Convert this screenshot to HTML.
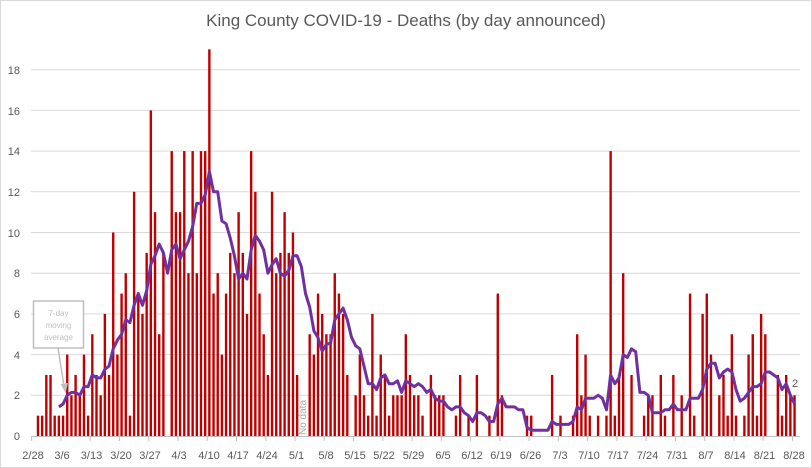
<!DOCTYPE html>
<html><head><meta charset="utf-8">
<style>
html,body{margin:0;padding:0;background:#fff;}
svg{display:block;font-family:"Liberation Sans",sans-serif;}
.yl{font-size:11px;fill:#595959;text-anchor:end;}
.xl{font-size:11px;fill:#595959;text-anchor:middle;}
</style></head>
<body>
<svg id="c" width="812" height="468" viewBox="0 0 812 468" xmlns="http://www.w3.org/2000/svg">
<rect x="0.5" y="0.5" width="811" height="467" fill="#fff" stroke="#d9d9d9"/>
<text x="406" y="26" font-size="17" fill="#595959" text-anchor="middle">King County COVID-19 - Deaths (by day announced)</text>
<g stroke="#d9d9d9" stroke-width="1">
<line x1="31" x2="800" y1="69.7" y2="69.7"/>
<line x1="31" x2="800" y1="110.4" y2="110.4"/>
<line x1="31" x2="800" y1="151.1" y2="151.1"/>
<line x1="31" x2="800" y1="191.8" y2="191.8"/>
<line x1="31" x2="800" y1="232.5" y2="232.5"/>
<line x1="31" x2="800" y1="273.2" y2="273.2"/>
<line x1="31" x2="800" y1="313.9" y2="313.9"/>
<line x1="31" x2="800" y1="354.6" y2="354.6"/>
<line x1="31" x2="800" y1="395.3" y2="395.3"/>
</g>
<g class="yl">
<text class="yl" x="20" y="74">18</text>
<text class="yl" x="20" y="115">16</text>
<text class="yl" x="20" y="155">14</text>
<text class="yl" x="20" y="196">12</text>
<text class="yl" x="20" y="237">10</text>
<text class="yl" x="20" y="277">8</text>
<text class="yl" x="20" y="318">6</text>
<text class="yl" x="20" y="359">4</text>
<text class="yl" x="20" y="399">2</text>
<text class="yl" x="20" y="440">0</text>
</g>
<g id="bars" fill="#c00000"></g>
<line x1="31" x2="800" y1="436.5" y2="436.5" stroke="#bfbfbf"/>
<g id="ticks" stroke="#bfbfbf"></g>
<g>
<text class="xl" x="33" y="459">2/28</text>
<text class="xl" x="62" y="459">3/6</text>
<text class="xl" x="91.5" y="459">3/13</text>
<text class="xl" x="121" y="459">3/20</text>
<text class="xl" x="150" y="459">3/27</text>
<text class="xl" x="179" y="459">4/3</text>
<text class="xl" x="209" y="459">4/10</text>
<text class="xl" x="238" y="459">4/17</text>
<text class="xl" x="267" y="459">4/24</text>
<text class="xl" x="296.5" y="459">5/1</text>
<text class="xl" x="326" y="459">5/8</text>
<text class="xl" x="355" y="459">5/15</text>
<text class="xl" x="384" y="459">5/22</text>
<text class="xl" x="413.5" y="459">5/29</text>
<text class="xl" x="443" y="459">6/5</text>
<text class="xl" x="472" y="459">6/12</text>
<text class="xl" x="501" y="459">6/19</text>
<text class="xl" x="530.5" y="459">6/26</text>
<text class="xl" x="560" y="459">7/3</text>
<text class="xl" x="589" y="459">7/10</text>
<text class="xl" x="618" y="459">7/17</text>
<text class="xl" x="647.5" y="459">7/24</text>
<text class="xl" x="677" y="459">7/31</text>
<text class="xl" x="706" y="459">8/7</text>
<text class="xl" x="735" y="459">8/14</text>
<text class="xl" x="764.5" y="459">8/21</text>
<text class="xl" x="794" y="459">8/28</text>
</g>
<text transform="translate(306,435) rotate(-90)" font-size="10" fill="#a6a6a6">No data</text>
<polyline id="ma" fill="none" stroke="#7030a0" stroke-width="3" stroke-linejoin="round"/>
<text x="792" y="387" font-size="11" fill="#595959">2</text>
<rect x="33.5" y="301" width="50" height="47" fill="#fff" stroke="#bfbfbf" stroke-width="1.5"/>
<text x="58.5" y="316" font-size="8" fill="#bfbfbf" text-anchor="middle">7-day</text>
<text x="58.5" y="328" font-size="8" fill="#bfbfbf" text-anchor="middle">moving</text>
<text x="58.5" y="340" font-size="8" fill="#bfbfbf" text-anchor="middle">average</text>
<line x1="58" y1="348" x2="64" y2="386" stroke="#bfbfbf" stroke-width="1.5"/>
<polygon points="60.5,384 68,383 65.5,393" fill="#bfbfbf"/>
</svg>
<script>
var d=[0,1,1,3,3,1,1,1,4,2,3,2,4,1,5,3,2,6,3,10,4,7,8,1,12,7,6,9,16,11,5,9,0,
14,11,11,14,8,14,8,14,14,19,7,8,4,7,9,8,11,9,6,14,12,7,5,3,12,8,9,11,9,10,3,
null,0,5,4,7,6,5,5,8,7,6,3,0,2,4,2,1,6,1,4,3,1,2,2,2,5,3,2,2,1,0,3,2,2,2,0,0,
1,3,0,1,0,3,0,0,1,0,7,2,0,0,0,0,0,1,1,0,0,0,0,3,0,1,0,0,1,5,2,4,1,0,1,0,1,14,1,3,8,0,3,0,0,1,2,2,0,3,1,0,3,0,2,0,7,1,0,6,7,4,0,2,3,1,5,1,0,1,4,5,1,6,5,0,0,3,1,3,2,2];
var ns="http://www.w3.org/2000/svg";
function X(i){return 33.8+4.18*i;}
function Y(v){return 436-20.35*v;}
var g=document.getElementById('bars');
for(var i=0;i<d.length;i++){if(d[i]){var r=document.createElementNS(ns,'rect');r.setAttribute('x',(X(i)-1.2).toFixed(2));r.setAttribute('width','2.4');r.setAttribute('y',Y(d[i]).toFixed(2));r.setAttribute('height',(20.35*d[i]).toFixed(2));g.appendChild(r);}}
var t=document.getElementById('ticks');
for(var k=0;k<=26;k++){var x=31.7+4.18*7*k;var l=document.createElementNS(ns,'line');l.setAttribute('x1',x);l.setAttribute('x2',x);l.setAttribute('y1',436);l.setAttribute('y2',441);t.appendChild(l);}
var pts=[];
for(var i=6;i<d.length;i++){var s=0,n=0;for(var j=i-6;j<=i;j++){if(d[j]!==null){s+=d[j];n++;}}pts.push(X(i).toFixed(1)+','+Y(s/n).toFixed(1));}
document.getElementById('ma').setAttribute('points',pts.join(' '));
</script>
</body></html>
